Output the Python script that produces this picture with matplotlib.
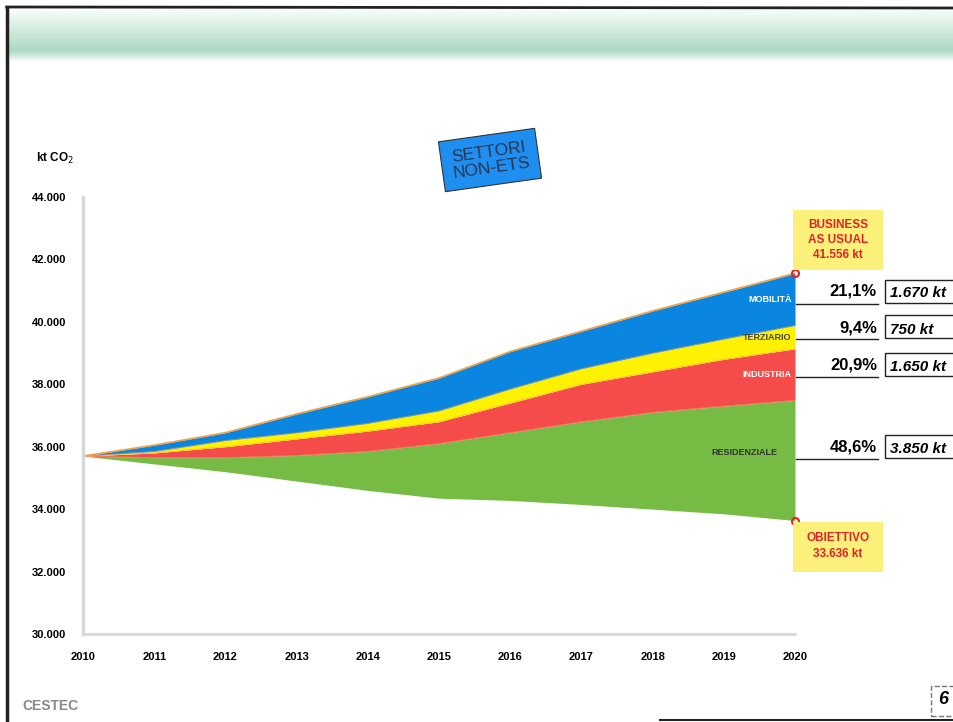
import numpy as np
import matplotlib
matplotlib.use("Agg")
import matplotlib.pyplot as plt
from matplotlib.patches import Rectangle
from matplotlib.ticker import FuncFormatter

plt.rcParams['font.family'] = ['Liberation Sans', 'DejaVu Sans']

years = [2010, 2011, 2012, 2013, 2014, 2015, 2016, 2017, 2018, 2019, 2020]
# upper edge of every layer, kt CO2
obiettivo = [35700, 35450, 35200, 34900, 34600, 34350, 34280, 34150, 34000, 33850, 33636]
residenziale = [35700, 35650, 35650, 35720, 35850, 36100, 36450, 36800, 37100, 37300, 37486]
industria = [35700, 35800, 36000, 36250, 36500, 36800, 37400, 38000, 38400, 38800, 39136]
terziario = [35700, 35850, 36200, 36450, 36750, 37150, 37850, 38500, 39000, 39450, 39886]
mobilita = [35700, 36050, 36450, 37050, 37600, 38200, 39050, 39700, 40350, 40950, 41556]

sectors = ["RESIDENZIALE", "INDUSTRIA", "TERZIARIO", "MOBILITÀ"]
shares = ["48,6%", "20,9%", "9,4%", "21,1%"]
savings = ["3.850 kt", "1.650 kt", "750 kt", "1.670 kt"]
bau_label = "BUSINESS\nAS USUAL\n41.556 kt"
obj_label = "OBIETTIVO\n33.636 kt"

W, H = 954, 722
fig = plt.figure(figsize=(W / 100, H / 100), dpi=100)


def px(x, y):
    return x / W, 1 - y / H


# header band
hb = fig.add_axes([0.008, 1 - 62 / H, 0.992, 52 / H])
grad = np.linspace(0, 1, 64)[:, None]
top = np.array([0.96, 0.99, 0.97])
bot = np.array([0.68, 0.85, 0.77])
img = np.concatenate([top + (bot - top) * grad[..., None],
                      np.linspace(bot, [1, 1, 1], 18)[:, None, :]])
hb.imshow(img, aspect='auto', extent=[0, 1, 0, 1])
hb.axis('off')

# page frame
fig.add_artist(plt.Line2D([0.007, 0.007], [0, 1 - 8 / H], color='#222222', lw=2.5))
fig.add_artist(plt.Line2D([0.007, 1], [1 - 7 / H, 1 - 8 / H], color='#222222', lw=2))
fig.add_artist(plt.Line2D([660 / W, 1], [2 / H, 2 / H], color='#222222', lw=1.5))

ax = fig.add_axes([83 / W, 1 - 634 / H, (795 - 83) / W, (634 - 197) / H])
layers = [obiettivo, residenziale, industria, terziario, mobilita]
colors = ['#76bb44', '#f64b4b', '#fff200', '#0a86e0']
for i in range(4):
    ax.fill_between(years, layers[i], layers[i + 1], color=colors[i], lw=0)
for lay in layers[1:4]:
    ax.plot(years, lay, color='#e8a060', lw=0.5, alpha=0.7)
ax.plot(years, mobilita, color='#f5a040', lw=1.2)

ax.set_xlim(2010, 2020)
ax.set_ylim(30000, 44000)
ax.set_xticks(years)
ax.set_yticks(np.arange(30000, 44001, 2000))
ax.yaxis.set_major_formatter(FuncFormatter(lambda v, p: f"{int(v):,}".replace(",", ".")))
ax.tick_params(axis='both', length=0, labelsize=8)
ax.tick_params(axis='y', pad=12)
ax.tick_params(axis='x', pad=13)
for lab in ax.get_xticklabels() + ax.get_yticklabels():
    lab.set_fontweight('bold')
for s in ['top', 'right']:
    ax.spines[s].set_visible(False)
ax.spines['left'].set_color('#d8d8d8')
ax.spines['left'].set_linewidth(2.5)
ax.spines['bottom'].set_color('#d8d8d8')
ax.spines['bottom'].set_linewidth(2)

fig.text(*px(36, 158), "kt CO$_2$", fontsize=8.5, fontweight='bold', va='center')

# sector names inside the areas
last = [(obiettivo[-1] + residenziale[-1]) / 2, (residenziale[-1] + industria[-1]) / 2,
        (industria[-1] + terziario[-1]) / 2, (terziario[-1] + mobilita[-1]) / 2]
name_col = ['#333333', 'white', '#444444', 'white']
name_x = [2019.75, 2019.95, 2019.95, 2019.95]
for i in range(4):
    ax.text(name_x[i], last[i] + (250 if i == 0 else 0), sectors[i], fontsize=6.5,
            fontweight='bold', color=name_col[i], ha='right', va='center')

# shares and savings on the right
row_y = [447, 365, 328, 291]
line_y = [459, 377, 339, 304]
for i in range(4):
    fig.add_artist(plt.Line2D([796 / W, 878 / W], [1 - line_y[i] / H] * 2, color='#222222', lw=1))
    fig.text(*px(877, row_y[i]), shares[i], fontsize=12, fontweight='bold', ha='right', va='center')
    fig.add_artist(Rectangle(px(885, line_y[i] - 1), 80 / W, 23 / H, transform=fig.transFigure,
                             fill=False, ec='#222222', lw=1))
    fig.text(*px(890, row_y[i] + 2), savings[i], fontsize=11, fontweight='bold',
             style='italic', ha='left', va='center')

# sticky notes
fig.add_artist(Rectangle(px(793, 270), 90 / W, 60 / H, transform=fig.transFigure,
                         fc='#fbf07a', ec='none'))
fig.text(*px(838, 240), bau_label, fontsize=8.5, fontweight='bold', color='#e0242a',
         ha='center', va='center', linespacing=1.35)
fig.add_artist(Rectangle(px(793, 572), 90 / W, 50 / H, transform=fig.transFigure,
                         fc='#fbf07a', ec='none'))
fig.text(*px(838, 546), obj_label, fontsize=8.5, fontweight='bold', color='#e0242a',
         ha='center', va='center', linespacing=1.45)
ax.plot([2020], [mobilita[-1]], 'o', ms=5, mfc='none', mec='#e0242a', mew=1.5, clip_on=False)
ax.plot([2020], [obiettivo[-1]], 'o', ms=5, mfc='none', mec='#e0242a', mew=1.5, clip_on=False)

# title box
fig.text(*px(490, 160), "SETTORI\nNON-ETS", fontsize=12.5, color='#2a3550', ha='center',
         va='center', rotation=8, linespacing=1.1,
         bbox=dict(boxstyle='square,pad=0.55', fc='#1e8ef0', ec='#333333', lw=0.8))

# footer
fig.text(*px(22, 706), "CESTEC", fontsize=10, color='#888888', fontweight='bold', va='center')
fig.text(*px(943, 700), "6", fontsize=13, fontweight='bold', style='italic', ha='center', va='center')
fig.add_artist(Rectangle(px(931, 716), 30 / W, 30 / H, transform=fig.transFigure,
                         fill=False, ec='#777777', lw=1, ls='--'))

fig.savefig("out.png", dpi=100)
